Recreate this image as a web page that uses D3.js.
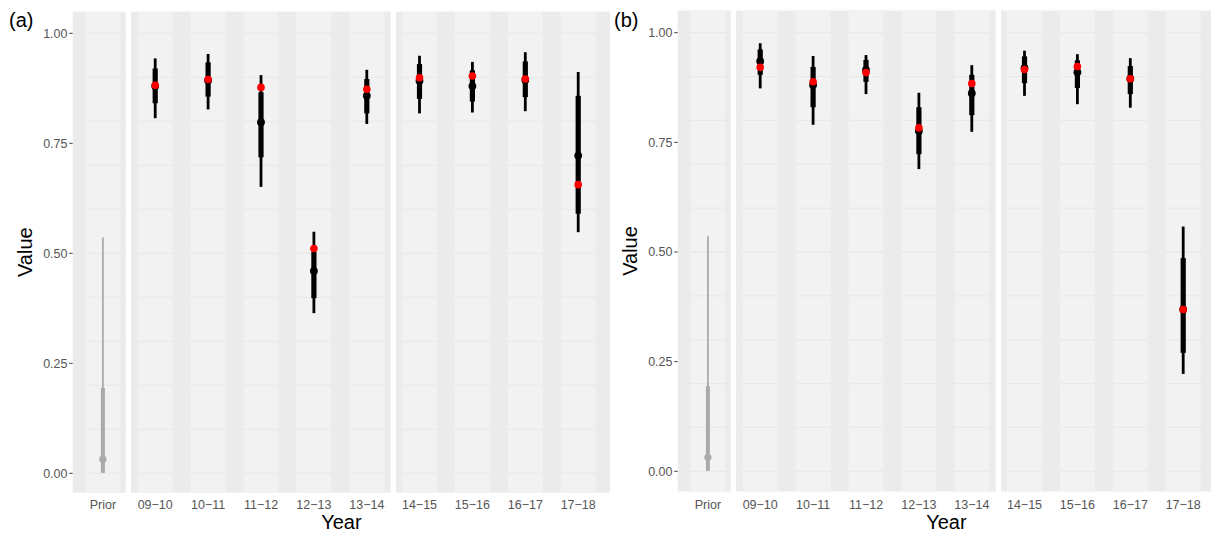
<!DOCTYPE html>
<html>
<head>
<meta charset="utf-8">
<script src="https://cdn.jsdelivr.net/npm/d3@7"></script>
<style>
  html, body { margin: 0; padding: 0; background: #ffffff; }
  svg { display: block; }
  text { font-family: "Liberation Sans", Arial, sans-serif; }
</style>
</head>
<body>
<svg id="chart" width="1211" height="534"></svg>
<script>
// ---- data -------------------------------------------------------------
const priorCategory = ["Prior"];
const seasonsEarly = ["09\u221210", "10\u221211", "11\u221212", "12\u221213", "13\u221214"];
const seasonsLate  = ["14\u221215", "15\u221216", "16\u221217", "17\u221218"];
const seasons = seasonsEarly.concat(seasonsLate);

const yTicks = [0, 0.25, 0.5, 0.75, 1.0];
const yTickLabels = ["0.00", "0.25", "0.50", "0.75", "1.00"];
const gridValues = [0, 0.1, 0.2, 0.3, 0.4, 0.5, 0.6, 0.7, 0.8, 0.9, 1.0];

// prior distribution summary (same in both panels)
const priorEst = 0.032, priorLo50 = 0.001, priorHi50 = 0.194, priorLo95 = 0.001, priorHi95 = 0.536;

// panel (a): posterior summaries per season, plus observed value
const estA  = [0.880, 0.893, 0.798, 0.460, 0.858, 0.892, 0.880, 0.894, 0.722];
const lo50A = [0.841, 0.856, 0.718, 0.398, 0.818, 0.851, 0.845, 0.855, 0.590];
const hi50A = [0.920, 0.934, 0.866, 0.504, 0.896, 0.930, 0.916, 0.936, 0.858];
const lo95A = [0.807, 0.827, 0.651, 0.364, 0.794, 0.818, 0.820, 0.823, 0.548];
const hi95A = [0.943, 0.953, 0.905, 0.549, 0.917, 0.949, 0.935, 0.957, 0.912];
const obsA  = [0.882, 0.895, 0.877, 0.511, 0.873, 0.899, 0.903, 0.896, 0.656];

// panel (b)
const estB  = [0.935, 0.881, 0.915, 0.776, 0.862, 0.920, 0.910, 0.895, 0.369];
const lo50B = [0.904, 0.830, 0.888, 0.723, 0.812, 0.885, 0.874, 0.860, 0.270];
const hi50B = [0.962, 0.922, 0.938, 0.830, 0.904, 0.946, 0.937, 0.924, 0.486];
const lo95B = [0.873, 0.790, 0.860, 0.689, 0.774, 0.856, 0.837, 0.829, 0.222];
const hi95B = [0.976, 0.947, 0.949, 0.863, 0.926, 0.959, 0.951, 0.942, 0.558];
const obsB  = [0.921, 0.888, 0.909, 0.783, 0.884, 0.916, 0.923, 0.895, 0.369];

// ---- layout -------------------------------------------------------------
const svg = d3.select("#chart");
const step = 52.9;              // pixels per category
const bandHalf = 0.33;          // half width of the light stripe, in category units

function buildRows(est, lo50, hi50, lo95, hi95, obs) {
  return seasons.map((s, i) => ({
    cat: s, est: est[i], lo50: lo50[i], hi50: hi50[i],
    lo95: lo95[i], hi95: hi95[i], obs: obs[i]
  }));
}

const panels = [
  { tag: "(a)", dx: 0,   top: 11.7, bottom: 492.7, y0: 473.3, y1: 33.3,
    rows: buildRows(estA, lo50A, hi50A, lo95A, hi95A, obsA) },
  { tag: "(b)", dx: 605, top: 10.5, bottom: 491.5, y0: 471.3, y1: 32.7,
    rows: buildRows(estB, lo50B, hi50B, lo95B, hi95B, obsB) }
];

// facet strips: left/right edges and centre of first category
const facets = [
  { cats: priorCategory, x0: 72.7, x1: 125.7, c0: 102.9 },
  { cats: seasonsEarly,  x0: 131.0, x1: 390.7, c0: 155.2 },
  { cats: seasonsLate,   x0: 396.0, x1: 610.0, c0: 419.5 }
];

panels.forEach(p => {
  const g = svg.append("g").attr("transform", `translate(${p.dx},0)`);
  const y = d3.scaleLinear().domain([0, 1]).range([p.y0, p.y1]);

  facets.forEach(f => {
    const x = d3.scaleLinear().domain([0, 1]).range([f.c0, f.c0 + step]);
    const fg = g.append("g");

    // panel background
    fg.append("rect")
      .attr("x", f.x0).attr("y", p.top)
      .attr("width", f.x1 - f.x0).attr("height", p.bottom - p.top)
      .attr("fill", "#ebebeb");

    // light stripe behind each category
    fg.selectAll("rect.band").data(f.cats).enter().append("rect")
      .attr("class", "band")
      .attr("x", (d, i) => x(i - bandHalf))
      .attr("width", (d, i) => x(i + bandHalf) - x(i - bandHalf))
      .attr("y", p.top).attr("height", p.bottom - p.top)
      .attr("fill", "#f2f2f2");

    // horizontal guide lines inside the stripes
    f.cats.forEach((c, i) => {
      fg.selectAll(null).data(gridValues).enter().append("line")
        .attr("x1", x(i - bandHalf)).attr("x2", x(i + bandHalf))
        .attr("y1", d => y(d)).attr("y2", d => y(d))
        .attr("stroke", "#e9e9e9").attr("stroke-width", 1.3);
    });

    // category labels
    fg.selectAll("text.xlab").data(f.cats).enter().append("text")
      .attr("class", "xlab")
      .attr("x", (d, i) => x(i)).attr("y", 509)
      .attr("text-anchor", "middle")
      .attr("font-size", 12.5).attr("fill", "#555555")
      .text(d => d);

    if (f.cats === priorCategory) {
      const px = x(0);
      fg.append("line").attr("x1", px).attr("x2", px)
        .attr("y1", y(priorLo95)).attr("y2", y(priorHi95))
        .attr("stroke", "#aaaaaa").attr("stroke-width", 1.8);
      fg.append("line").attr("x1", px).attr("x2", px)
        .attr("y1", y(priorLo50)).attr("y2", y(priorHi50))
        .attr("stroke", "#aaaaaa").attr("stroke-width", 4);
      fg.append("circle").attr("cx", px).attr("cy", y(priorEst))
        .attr("r", 3.6).attr("fill", "#aaaaaa");
    } else {
      const rows = p.rows.filter(r => f.cats.includes(r.cat));
      const xi = r => x(f.cats.indexOf(r.cat));
      fg.selectAll(null).data(rows).enter().append("line")
        .attr("x1", xi).attr("x2", xi)
        .attr("y1", r => y(r.lo95)).attr("y2", r => y(r.hi95))
        .attr("stroke", "#000").attr("stroke-width", 2.8);
      fg.selectAll(null).data(rows).enter().append("line")
        .attr("x1", xi).attr("x2", xi)
        .attr("y1", r => y(r.lo50)).attr("y2", r => y(r.hi50))
        .attr("stroke", "#000").attr("stroke-width", 5.2);
      fg.selectAll(null).data(rows).enter().append("circle")
        .attr("cx", xi).attr("cy", r => y(r.est))
        .attr("r", 3.9).attr("fill", "#000");
      fg.selectAll(null).data(rows).enter().append("circle")
        .attr("cx", xi).attr("cy", r => y(r.obs))
        .attr("r", 3.8).attr("fill", "#ff0000");
    }
  });

  // y axis
  const ax = g.append("g");
  ax.selectAll(null).data(yTicks).enter().append("line")
    .attr("x1", 69.2).attr("x2", 72.7)
    .attr("y1", d => y(d)).attr("y2", d => y(d))
    .attr("stroke", "#444").attr("stroke-width", 1);
  ax.selectAll(null).data(yTicks).enter().append("text")
    .attr("x", 67.5).attr("y", d => y(d)).attr("dy", "0.35em")
    .attr("text-anchor", "end")
    .attr("font-size", 12.5).attr("fill", "#555555")
    .text((d, i) => yTickLabels[i]);

  // axis titles and panel tag
  g.append("text")
    .attr("transform", `translate(32,${(p.top + p.bottom) / 2}) rotate(-90)`)
    .attr("text-anchor", "middle").attr("font-size", 20).attr("fill", "#000")
    .text("Value");
  g.append("text")
    .attr("x", (72.7 + 610) / 2).attr("y", 529)
    .attr("text-anchor", "middle").attr("font-size", 20).attr("fill", "#000")
    .text("Year");
  g.append("text")
    .attr("x", 9).attr("y", 27)
    .attr("font-size", 20).attr("fill", "#000")
    .text(p.tag);
});
</script>
</body>
</html>
